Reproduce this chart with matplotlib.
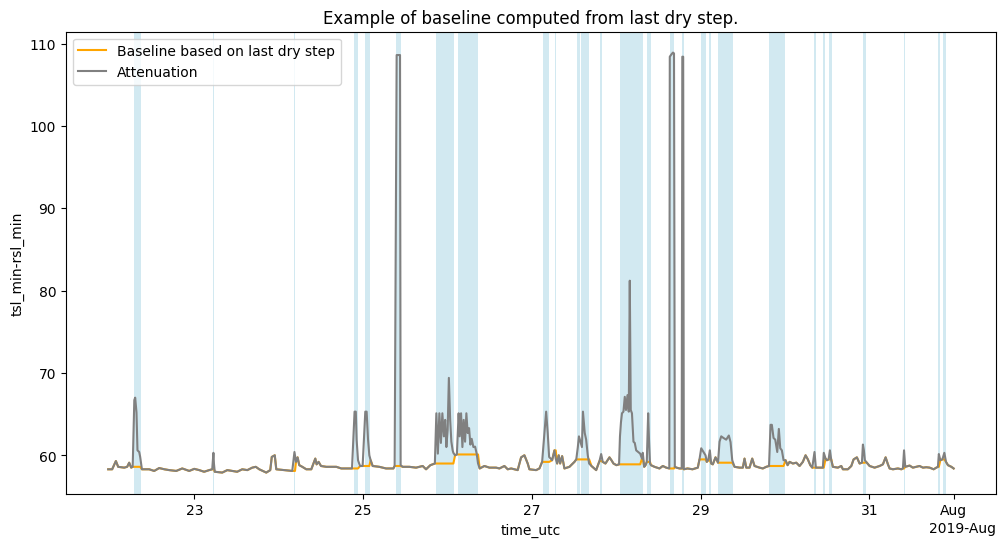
import numpy as np
import pandas as pd
import matplotlib
matplotlib.use('Agg')
import matplotlib.pyplot as plt
import matplotlib.dates as mdates

t0 = pd.Timestamp('2019-07-22 00:00')

# attenuation samples: hours since t0 and value (tsl_min - rsl_min)
att_hours = [
    -0.48, 0.65, 1.71, 2.36, 4.07, 4.92, 5.49, 6.06, 6.49, 6.95, 7.20, 7.57, 7.85, 8.34, 8.62, 9.11,
    11.18, 12.6, 14.03, 15.5, 16.88, 18.87, 20.58, 22.57, 24.0, 25.41, 26.8, 28.26, 29.11, 29.45,
    29.60, 29.83,
    31.96, 33.4, 34.81, 36.2, 37.65, 39.1, 40.50, 41.5, 42.49, 43.5, 44.48,
    45.62, 46.05, 46.90, 47.33, 49.61, 51.88, 52.50, 52.65, 52.94, 53.39,
    53.87, 54.73, 55.87, 57.29, 58.43, 58.80, 59.37, 60.05, 61.56, 64.41, 65.83, 67.25, 68.87, 69.60,
    69.95, 70.18, 70.58, 71.15, 71.89, 72.65, 73.03, 73.43, 73.80, 74.17, 74.74, 76.64, 78.55, 80.63,
    81.00, 81.57, 82.53, 82.70, 83.27, 85.18, 87.09, 88.97, 89.93, 91.16, 92.44, 92.86, 93.29, 93.72,
    94.15, 94.57, 95.00, 95.37, 95.71, 96.08, 96.42, 96.79, 97.13, 97.50, 97.70, 98.19, 98.70, 99.20,
    99.50, 99.89, 100.27, 100.64, 101.03, 101.40, 101.77, 102.17, 102.54, 102.91, 103.40, 103.88,
    104.33, 104.72, 105.19, 106.53, 107.95, 109.86, 110.80, 112.22, 113.16, 114.13, 116.00, 116.97,
    117.91, 118.85, 119.33, 121.24, 122.18, 122.95, 123.60, 124.09, 124.54, 124.94, 125.79, 126.45,
    126.82, 127.22, 127.67, 128.07, 128.64, 129.29, 130.72, 132.14, 132.66, 133.08, 133.42, 134.27,
    134.56, 135.07, 135.47, 135.93, 136.32, 136.98, 138.32, 139.26, 139.74, 140.19, 140.96, 142.10,
    142.67, 143.24, 144.09, 144.83, 145.09, 145.37, 145.66, 146.08, 146.46, 146.80, 147.22, 147.59,
    147.88, 148.16, 148.50, 148.93, 149.30, 149.70, 150.27, 150.84, 151.35, 151.58, 151.98, 152.35,
    152.72, 153.11, 153.34, 153.63, 153.91, 154.91, 156.33, 157.27, 158.24, 159.12, 159.26, 159.75,
    160.17, 160.46, 160.69, 161.17, 162.02, 162.65, 162.82, 163.07, 163.25, 164.30, 165.72, 167.23,
    167.71, 168.20, 168.71, 169.42, 169.79, 170.19, 170.65, 171.04, 171.50, 172.27, 172.98, 173.41,
    173.89, 174.54, 175.31, 176.05, 176.54, 177.02, 177.68, 179.10, 180.04, 180.52, 181.01, 181.95,
    182.71, 183.37, 184.79, 185.73, 186.70, 187.49, 187.92, 188.29, 188.77, 189.26, 189.83, 190.28,
    190.68, 191.14, 191.62, 192.19, 192.76, 193.33, 194.27, 195.24, 196.17, 197.11, 197.88, 198.54,
    199.22, 199.79, 200.42, 200.81, 201.87, 202.81, 203.06, 203.57, 203.94, 204.43, 204.80, 205.20,
    205.65, 207.07, 208.04, 208.50, 209.92, 210.89, 211.54, 212.48, 213.25, 213.91, 214.19, 214.47,
    214.75, 215.10, 216.10, 217.52, 218.94, 219.88, 220.65, 221.31, 221.79, 222.73, 224.15, 225.12,
    225.57, 225.89, 226.23, 227.48, 228.4, 229.39, 230.3, 231.27, 232.2, 233.17,
    234.31, 235.08, 235.53, 235.79, 236.22,
    236.79, 237.36, 237.82, 238.38, 239.35, 240.00,
]
att_values = [
    58.3, 58.3, 59.3, 58.6, 58.5, 58.6, 59.1, 58.5, 58.6, 66.7, 67.0, 65.2, 60.6, 60.4, 59.8, 58.3,
    58.3, 58.1, 58.45, 58.3, 58.2, 58.1, 58.4, 58.1, 58.35, 58.2, 58.0, 58.2, 58.3, 60.3,
    59.0, 58.0,
    57.9, 58.2, 58.1, 58.0, 58.3, 58.2, 58.5, 58.6, 58.3, 58.1, 57.9,
    58.2, 59.8, 60.0, 58.3, 58.2, 58.1, 60.4, 60.0, 59.2, 59.75,
    58.8, 58.6, 58.3, 58.3, 59.6, 58.9, 59.2, 58.7, 58.6, 58.6, 58.4, 58.4, 58.4, 65.3,
    65.3, 61.9, 59.4, 58.7, 58.7, 65.3, 65.3, 61.9, 60.0, 59.4, 58.7, 58.6, 58.4, 58.4,
    58.7, 108.6, 108.6, 58.8, 58.6, 58.6, 58.5, 58.7, 58.3, 58.8, 59.0, 65.1, 60.2, 65.1,
    61.5, 65.1, 62.3, 64.3, 61.0, 63.1, 69.4, 64.3, 61.65, 60.6, 60.3, 60.0, 60.1, 65.1,
    62.3, 65.1, 61.0, 64.3, 61.65, 65.1, 62.7, 63.3, 61.3, 62.0, 61.0, 61.05,
    60.2, 59.0, 58.4, 58.7, 58.5, 58.5, 58.4, 58.7, 58.3, 58.4, 58.2, 59.75,
    60.0, 59.0, 58.3, 58.2, 58.4, 59.2, 62.7, 65.3, 62.7, 59.8, 59.4, 60.6,
    59.6, 59.0, 60.0, 59.0, 59.9, 58.4, 58.6, 59.2, 59.5, 60.9, 62.3, 61.0,
    65.3, 62.7, 61.9, 60.0, 59.0, 58.7, 58.2, 59.3, 60.15, 59.2, 59.0, 59.75,
    59.4, 59.0, 58.8, 58.9, 62.3, 64.0, 65.1, 65.3, 67.1, 65.5, 67.3, 65.3,
    81.2, 65.5, 65.1, 61.65, 61.5, 60.6, 60.4, 60.2, 59.6, 60.3, 58.6, 58.8,
    59.2, 65.1, 62.0, 59.0, 58.8, 58.6, 58.4, 58.7, 58.5, 58.4, 108.4, 108.7,
    108.9, 108.8, 58.6, 58.5, 58.4, 58.4, 108.4, 108.4, 58.3, 58.4, 58.3, 58.5,
    59.5, 60.85, 60.5, 60.0, 59.2, 59.4, 60.6, 59.0, 58.9, 59.75, 59.1, 61.65,
    62.3, 62.1, 61.9, 62.4, 61.6, 59.4, 58.6, 58.5, 58.5, 59.6, 58.5, 58.5,
    59.6, 58.7, 58.5, 58.4, 58.6, 58.7, 63.7, 63.7, 62.1, 61.9, 60.4, 63.2,
    60.85, 60.6, 59.4, 59.4, 58.8, 59.2, 59.0, 59.1, 58.7, 59.2, 60.0, 59.5,
    58.8, 58.5, 60.4, 58.5, 58.5, 58.5, 60.3, 59.6, 59.4, 59.5, 60.6, 59.4,
    58.6, 58.5, 58.7, 58.3, 58.3, 58.7, 59.5, 59.75, 59.0, 59.1, 61.3, 60.6,
    59.4, 59.2, 58.7, 58.5, 58.7, 58.9, 59.75, 58.9, 58.4, 58.3, 58.4, 58.3,
    58.4, 60.6, 58.6, 58.75, 58.5, 58.6, 58.7, 58.5, 58.55, 58.5,
    58.3, 58.5, 58.6, 60.15, 59.4,
    59.5, 60.3, 59.2, 58.8, 58.6, 58.4,
]
assert len(att_hours) == len(att_values)

# wet periods (hours since t0): start, end
wet_start = [6.9, 29.35, 52.4, 69.5, 72.55, 81.45, 92.8, 99.1, 123.3, 126.6, 133.0, 134.1, 139.4,
             145.0, 151.45, 152.9, 159.2, 162.75, 168.0, 170.45, 173.1, 187.6, 200.35, 202.9,
             204.6, 214.1, 225.75, 235.6, 237.05]
wet_end = [8.9, 29.7, 52.75, 70.7, 74.1, 82.9, 97.8, 104.8, 125.0, 127.0, 133.65, 136.4, 140.0,
           151.3, 151.7, 153.8, 160.6, 163.2, 169.7, 170.85, 177.1, 191.9, 200.75, 203.3,
           205.3, 214.95, 226.15, 236.1, 237.75]

hours = np.array(att_hours)
time = t0 + pd.to_timedelta(hours, unit='h')
att = pd.Series(att_values, index=time)

wet = np.zeros(len(hours), dtype=bool)
for s, e in zip(wet_start, wet_end):
    wet |= (hours >= s) & (hours <= e)

# baseline: hold last dry value during wet periods
baseline = att.where(~wet).ffill()

fig, ax = plt.subplots(figsize=(12, 6))
ax.plot(baseline.index, baseline.values, color='orange', label='Baseline based on last dry step')
ax.plot(att.index, att.values, color='grey', label='Attenuation')

for s, e in zip(wet_start, wet_end):
    ax.axvspan(t0 + pd.Timedelta(hours=s), t0 + pd.Timedelta(hours=e),
               color='lightblue', alpha=0.55, linewidth=0)

locator = mdates.AutoDateLocator()
ax.xaxis.set_major_locator(locator)
ax.xaxis.set_major_formatter(mdates.ConciseDateFormatter(locator))

ax.set_xlabel('time_utc')
ax.set_ylabel('tsl_min-rsl_min')
ax.set_title('Example of baseline computed from last dry step.')
ax.legend(loc='upper left')

plt.savefig('out.png', dpi=100, bbox_inches='tight')
